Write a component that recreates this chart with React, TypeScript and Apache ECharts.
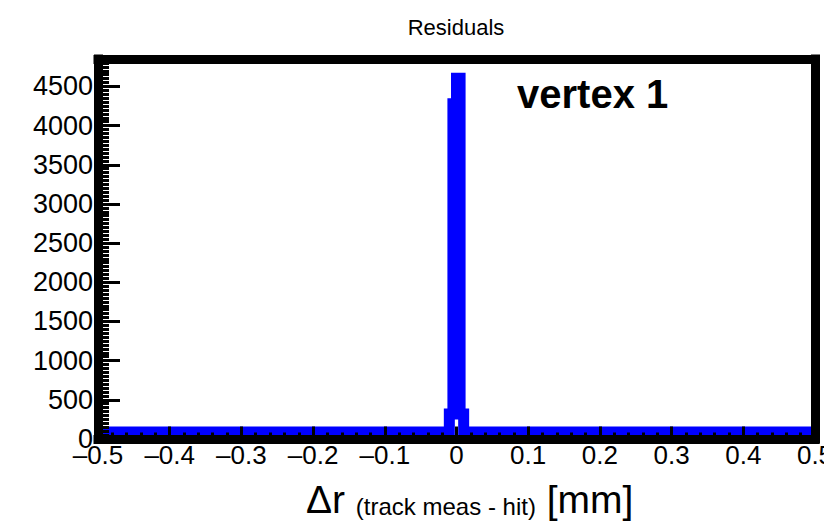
import React, { useEffect, useRef } from "react";
import * as echarts from "echarts";

// Histogram runs: bin edges and the count of every bin between two edges
const histEdges = [-0.5, -0.01, -0.005, 0, 0.005, 0.01, 0.5];
const histCounts = [90, 318, 4280, 4604, 318, 90];

const xRange = [-0.5, 0.5];
const xMajorStep = 0.1;
const yRange = [0, 4850];
const yMajorStep = 500;
const yMinorStep = 50;

const titleText = "Residuals";
const labelText = "vertex 1";

const FONT = "'Liberation Sans', Arial, Helvetica, sans-serif";

function fmtX(v: number): string {
  if (Math.abs(v) < 1e-9) return "0";
  const s = String(+v.toFixed(2));
  return s.replace("-", "\u2013");
}

export default function App() {
  const ref = useRef<HTMLDivElement>(null);
  useEffect(() => {
    if (!ref.current) return;
    const chart = echarts.init(ref.current, null, { renderer: "svg" });
    const stepData: number[][] = histCounts.map((c, i) => [histEdges[i], c]);
    stepData.push([histEdges[histEdges.length - 1], histCounts[histCounts.length - 1]]);

    const frameLine = { color: "#000", width: 9, cap: "square" as const };

    chart.setOption({
      animation: false,
      backgroundColor: "#fff",
      grid: { left: 98, right: 9, top: 59, bottom: 86, outerBoundsMode: "none", containLabel: false },
      xAxis: [
        {
          type: "value",
          position: "bottom",
          min: xRange[0],
          max: xRange[1],
          interval: xMajorStep,
          z: 10,
          axisLine: { show: true, onZero: false, lineStyle: frameLine },
          axisTick: { show: true, inside: true, length: 12.5, lineStyle: { color: "#000", width: 3 } },
          minorTick: { show: true, splitNumber: 5, length: 6.5, lineStyle: { color: "#000", width: 3 } },
          splitLine: { show: false },
          minorSplitLine: { show: false },
          axisLabel: {
            fontFamily: FONT,
            fontSize: 26,
            color: "#000",
            margin: 3,
            hideOverlap: false,
            formatter: (v: number) => fmtX(v),
          },
        },
        {
          type: "value",
          position: "top",
          min: xRange[0],
          max: xRange[1],
          z: 10,
          axisLine: { show: true, onZero: false, lineStyle: frameLine },
          axisTick: { show: false },
          axisLabel: { show: false },
          splitLine: { show: false },
        },
      ],
      yAxis: [
        {
          type: "value",
          position: "left",
          min: yRange[0],
          max: yRange[1],
          interval: yMajorStep,
          z: 10,
          axisLine: { show: true, onZero: false, lineStyle: frameLine },
          axisTick: { show: true, inside: true, length: 22, lineStyle: { color: "#000", width: 3 } },
          splitLine: { show: false },
          axisLabel: {
            fontFamily: FONT,
            fontSize: 27,
            color: "#000",
            margin: 5,
            showMaxLabel: false,
            hideOverlap: false,
            formatter: (v: number) => String(Math.round(v)),
          },
        },
        {
          type: "value",
          position: "left",
          min: yRange[0],
          max: yRange[1],
          interval: yMinorStep,
          z: 10,
          axisLine: { show: false, onZero: false },
          axisTick: { show: true, inside: true, length: 11, lineStyle: { color: "#000", width: 3 } },
          axisLabel: { show: false },
          splitLine: { show: false },
        },
        {
          type: "value",
          position: "right",
          min: yRange[0],
          max: yRange[1],
          z: 10,
          axisLine: { show: true, onZero: false, lineStyle: frameLine },
          axisTick: { show: false },
          axisLabel: { show: false },
          splitLine: { show: false },
        },
      ],
      series: [
        {
          type: "line",
          xAxisIndex: 0,
          yAxisIndex: 0,
          step: "end",
          data: stepData,
          symbol: "none",
          clip: false,
          z: 2,
          lineStyle: { color: "#0000ff", width: 11, join: "miter", cap: "butt" },
        },
      ],
      graphic: [
        {
          type: "text",
          x: 456,
          y: 27,
          z: 20,
          style: {
            text: titleText,
            font: `22px ${FONT}`,
            fill: "#000",
            align: "center",
            verticalAlign: "middle",
          },
        },
        {
          type: "text",
          x: 517,
          y: 94,
          z: 20,
          style: {
            text: labelText,
            font: `bold 40px ${FONT}`,
            fill: "#000",
            align: "left",
            verticalAlign: "middle",
          },
        },
        {
          type: "text",
          x: 306,
          y: 499,
          z: 20,
          style: {
            text: "{a|\u0394r }{b|(track meas - hit)}{a| [mm]}",
            align: "left",
            verticalAlign: "middle",
            fill: "#000",
            rich: {
              a: { fontFamily: FONT, fontSize: 39, fill: "#000", verticalAlign: "bottom" },
              b: { fontFamily: FONT, fontSize: 24, fill: "#000", verticalAlign: "bottom", lineHeight: 18 },
            },
          },
        },
      ],
    });
    return () => chart.dispose();
  }, []);
  return (
    <div
      ref={ref}
      style={{ position: "fixed", left: 0, top: 0, width: 824, height: 525, background: "#fff" }}
    />
  );
}
